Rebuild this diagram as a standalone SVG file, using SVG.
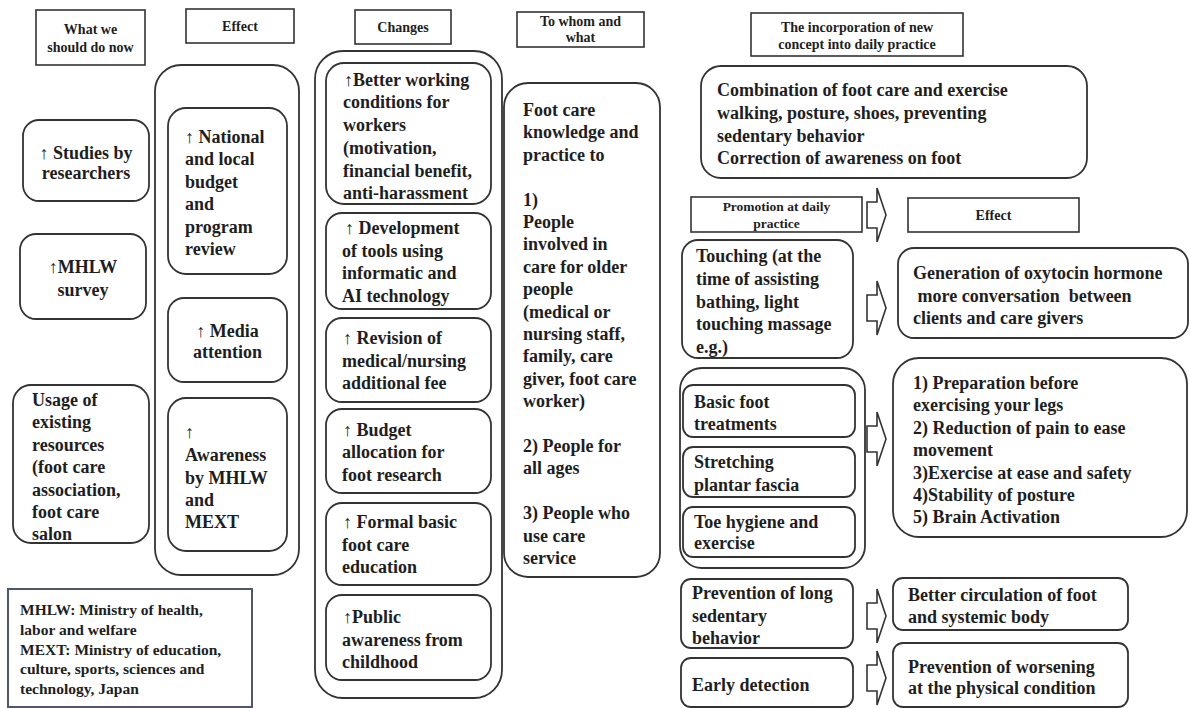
<svg xmlns="http://www.w3.org/2000/svg" width="1190" height="708" viewBox="0 0 1190 708">
<style>
text{font-family:"Liberation Serif","Times New Roman",serif;font-weight:bold;fill:#1e1e1e}
.b{font-size:18px}
.h{font-size:14px}
.l{font-size:15.5px}
.c{text-anchor:middle}
.box{fill:#fff;stroke:#333;stroke-width:1.8}
.hd{fill:#fff;stroke:#333;stroke-width:1.6}
.lg{fill:#fff;stroke:#4e586c;stroke-width:2}
.arr{fill:#fff;stroke:#333;stroke-width:1.6;stroke-linejoin:miter}
</style>
<defs>
<path id="blk" d="M0,-13 H10 V-27 L19,0 L10,27 V13 H0 Z"/>
</defs>
<rect width="1190" height="708" fill="#fff"/>

<!-- headers -->
<g id="h-now"><rect class="hd" x="36" y="10" width="109" height="55"/><text class="h c" x="90.5" y="34">What  we</text><text class="h c" x="90.5" y="52">should do now</text></g>
<g id="h-effect"><rect class="hd" x="186" y="9" width="108" height="34"/><text class="h c" x="240" y="31">Effect</text></g>
<g id="h-changes"><rect class="hd" x="355" y="10" width="96" height="34"/><text class="h c" x="403" y="32">Changes</text></g>
<g id="h-whom"><rect class="hd" x="517" y="12" width="127" height="35"/><text class="h c" x="580.5" y="26">To whom and</text><text class="h c" x="580.5" y="42">what</text></g>
<g id="h-incorp"><rect class="hd" x="751" y="13" width="212" height="43"/><text class="h c" x="857" y="32">The incorporation of new</text><text class="h c" x="857" y="49">concept into daily practice</text></g>

<!-- left column -->
<g id="n-studies"><rect class="box" x="23" y="120" width="126" height="81" rx="16"/><text class="b c" x="86" y="159">↑ Studies by</text><text class="b c" x="86" y="179">researchers</text></g>
<g id="n-mhlw"><rect class="box" x="20" y="234" width="126" height="85" rx="16"/><text class="b c" x="83" y="273">↑MHLW</text><text class="b c" x="83" y="296">survey</text></g>
<g id="n-usage"><rect class="box" x="13" y="385" width="136" height="158" rx="18"/>
<text class="b" x="32" y="406">Usage of</text><text class="b" x="32" y="428">existing</text><text class="b" x="32" y="451">resources</text><text class="b" x="32" y="473">(foot care</text><text class="b" x="32" y="496">association,</text><text class="b" x="32" y="518">foot care</text><text class="b" x="32" y="540">salon</text></g>
<g id="n-legend"><rect class="lg" x="8" y="589" width="244" height="118"/>
<text class="l" x="20" y="615">MHLW:  Ministry  of health,</text><text class="l" x="20" y="635">labor  and  welfare</text><text class="l" x="20" y="655">MEXT:  Ministry  of education,</text><text class="l" x="20" y="674">culture, sports, sciences and</text><text class="l" x="20" y="694">technology, Japan</text></g>

<!-- effect column -->
<g id="n-effect-group"><rect class="box" x="155" y="65" width="144" height="510" rx="26"/></g>
<g id="n-budget"><rect class="box" x="168" y="108" width="119" height="166" rx="18"/>
<text class="b" x="185" y="143">↑ National</text><text class="b" x="185" y="165">and local</text><text class="b" x="185" y="188">budget</text><text class="b" x="185" y="210">and</text><text class="b" x="185" y="233">program</text><text class="b" x="185" y="255">review</text></g>
<g id="n-media"><rect class="box" x="168" y="298" width="119" height="84" rx="16"/><text class="b c" x="227.5" y="337">↑ Media</text><text class="b c" x="227.5" y="358">attention</text></g>
<g id="n-awareness"><rect class="box" x="168" y="398" width="119" height="153" rx="18"/>
<text class="b" x="185" y="438">↑</text><text class="b" x="185" y="461">Awareness</text><text class="b" x="185" y="484">by MHLW</text><text class="b" x="185" y="506">and</text><text class="b" x="185" y="528">MEXT</text></g>

<!-- changes column -->
<g id="n-changes-group"><rect class="box" x="315" y="51" width="187" height="647" rx="28"/></g>
<g id="n-working"><rect class="box" x="326" y="63" width="165" height="141" rx="18"/>
<text class="b" x="344" y="86">↑Better working</text><text class="b" x="343" y="108">conditions  for</text><text class="b" x="343" y="131">workers</text><text class="b" x="343" y="154">(motivation,</text><text class="b" x="343" y="177">financial benefit,</text><text class="b" x="343" y="199">anti-harassment</text></g>
<g id="n-tools"><rect class="box" x="326" y="213" width="165" height="96" rx="16"/>
<text class="b" x="345" y="234">↑ Development</text><text class="b" x="342" y="257">of  tools using</text><text class="b" x="342" y="279">informatic  and</text><text class="b" x="342" y="302">AI technology</text></g>
<g id="n-revision"><rect class="box" x="326" y="318" width="165" height="84" rx="16"/>
<text class="b" x="343" y="344">↑ Revision  of</text><text class="b" x="342" y="367">medical/nursing</text><text class="b" x="342" y="389">additional  fee</text></g>
<g id="n-budget2"><rect class="box" x="326" y="409" width="165" height="84" rx="16"/>
<text class="b" x="343" y="436">↑ Budget</text><text class="b" x="342" y="458">allocation  for</text><text class="b" x="342" y="481">foot research</text></g>
<g id="n-formal"><rect class="box" x="326" y="503" width="165" height="82" rx="16"/>
<text class="b" x="343" y="528">↑ Formal basic</text><text class="b" x="342" y="551">foot care</text><text class="b" x="342" y="573">education</text></g>
<g id="n-public"><rect class="box" x="326" y="595" width="165" height="85" rx="16"/>
<text class="b" x="343" y="623">↑Public</text><text class="b" x="342" y="646">awareness from</text><text class="b" x="342" y="668">childhood</text></g>

<!-- to whom -->
<g id="n-whom"><rect class="box" x="504" y="83" width="156" height="494" rx="24"/>
<text class="b" x="523" y="116">Foot care</text><text class="b" x="523" y="138">knowledge and</text><text class="b" x="523" y="161">practice  to</text>
<text class="b" x="523" y="206">1)</text><text class="b" x="523" y="228">People</text><text class="b" x="523" y="250">involved  in</text><text class="b" x="523" y="273">care for older</text><text class="b" x="523" y="295">people</text><text class="b" x="523" y="318">(medical or</text><text class="b" x="523" y="340">nursing staff,</text><text class="b" x="523" y="362">family,  care</text><text class="b" x="523" y="385">giver, foot care</text><text class="b" x="523" y="407">worker)</text>
<text class="b" x="523" y="452">2) People for</text><text class="b" x="523" y="474">all ages</text>
<text class="b" x="523" y="519">3) People who</text><text class="b" x="523" y="542">use care</text><text class="b" x="523" y="564">service</text></g>

<!-- right side -->
<g id="n-combination"><rect class="box" x="701" y="66" width="386" height="112" rx="20"/>
<text class="b" x="717" y="96">Combination  of foot care and exercise</text><text class="b" x="717" y="119">walking,  posture, shoes, preventing</text><text class="b" x="717" y="142">sedentary behavior</text><text class="b" x="717" y="164">Correction of  awareness on foot</text></g>
<g id="h-promotion"><rect class="hd" x="691" y="197" width="171" height="35"/><text class="h c" x="776.5" y="211" style="font-size:13.5px">Promotion at daily</text><text class="h c" x="776.5" y="228" style="font-size:13.5px">practice</text></g>
<g id="h-effect2"><rect class="hd" x="908" y="198" width="171" height="34"/><text class="h c" x="993.5" y="220">Effect</text></g>
<g id="n-touching"><rect class="box" x="682" y="240" width="171" height="118" rx="16"/>
<text class="b" x="696" y="262">Touching (at the</text><text class="b" x="696" y="285">time  of assisting</text><text class="b" x="696" y="308">bathing,  light</text><text class="b" x="696" y="330">touching massage</text><text class="b" x="696" y="353">e.g.)</text></g>
<g id="n-oxytocin"><rect class="box" x="898" y="248" width="290" height="90" rx="16"/>
<text class="b" x="913" y="279">Generation  of oxytocin  hormone</text><text class="b" x="913" y="302" xml:space="preserve"> more conversation  between</text><text class="b" x="913" y="324">clients  and  care givers</text></g>
<g id="n-foot-group"><rect class="box" x="680" y="368" width="185" height="200" rx="22"/></g>
<g id="n-basic"><rect class="box" x="683" y="385" width="172" height="52" rx="10"/><text class="b" x="694" y="408">Basic foot</text><text class="b" x="694" y="430">treatments</text></g>
<g id="n-stretch"><rect class="box" x="683" y="447" width="172" height="50" rx="10"/><text class="b" x="694" y="468">Stretching</text><text class="b" x="694" y="491">plantar fascia</text></g>
<g id="n-toe"><rect class="box" x="683" y="507" width="172" height="50" rx="10"/><text class="b" x="694" y="528">Toe hygiene  and</text><text class="b" x="694" y="549">exercise</text></g>
<g id="n-list"><rect class="box" x="893" y="358" width="294" height="179" rx="26"/>
<text class="b" x="913" y="389">1) Preparation before</text><text class="b" x="913" y="411">exercising your legs</text><text class="b" x="913" y="434">2) Reduction of pain to ease</text><text class="b" x="913" y="456">movement</text><text class="b" x="913" y="479">3)Exercise at ease and safety</text><text class="b" x="913" y="501">4)Stability  of posture</text><text class="b" x="913" y="523">5) Brain Activation</text></g>
<g id="n-sedentary"><rect class="box" x="681" y="579" width="172" height="69" rx="10"/><text class="b" x="692" y="599">Prevention of long</text><text class="b" x="692" y="622">sedentary</text><text class="b" x="692" y="644">behavior</text></g>
<g id="n-early"><rect class="box" x="681" y="658" width="172" height="49" rx="10"/><text class="b" x="692" y="691">Early  detection</text></g>
<g id="n-circulation"><rect class="box" x="893" y="578" width="235" height="52" rx="10"/><text class="b" x="908" y="601">Better circulation  of foot</text><text class="b" x="908" y="623">and systemic  body</text></g>
<g id="n-worsening"><rect class="box" x="893" y="643" width="235" height="64" rx="10"/><text class="b" x="908" y="673">Prevention of worsening</text><text class="b" x="908" y="694">at the  physical condition</text></g>

<!-- connectors -->
<g id="connectors">
<use href="#blk" class="arr" transform="translate(867,215)"/>
<use href="#blk" class="arr" transform="translate(867,308)"/>
<use href="#blk" class="arr" transform="translate(867,439)"/>
<use href="#blk" class="arr" transform="translate(867,616)"/>
<use href="#blk" class="arr" transform="translate(867,678)"/>
</g>
</svg>
